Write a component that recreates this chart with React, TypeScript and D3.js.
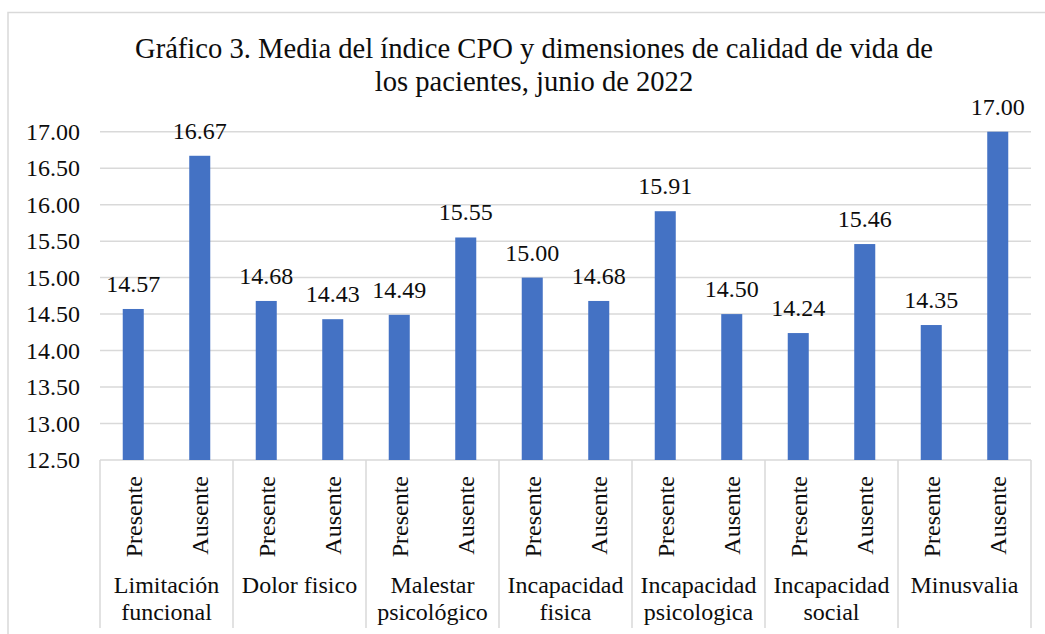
import React from 'react';
import * as d3 from 'd3';

// chart values
const groups = [
    ['Limitación', 'funcional'],
    ['Dolor fisico'],
    ['Malestar', 'psicológico'],
    ['Incapacidad', 'fisica'],
    ['Incapacidad', 'psicologica'],
    ['Incapacidad', 'social'],
    ['Minusvalia'],
];
const levels = ['Presente', 'Ausente'];
const values = [
    14.57, 16.67,
    14.68, 14.43,
    14.49, 15.55,
    15.00, 14.68,
    15.91, 14.50,
    14.24, 15.46,
    14.35, 17.00,
];
const yTicks = [12.5, 13, 13.5, 14, 14.5, 15, 15.5, 16, 16.5, 17];
const titleLines = [
    'Gráfico 3. Media del índice CPO y dimensiones de calidad de vida de',
    'los pacientes, junio de 2022',
];

const W = 1045;
const H = 634;
const FONT = "'Liberation Serif', 'Times New Roman', Times, serif";
const BAR = '#4472C4';
const GRID = '#d9d9d9';
const INK = '#0d0d0d';
const FS = 24;

export default function App() {
    const left = 100;
    const right = 1031;
    const top = 131.7;
    const bottom = 460;

    const y = d3.scaleLinear().domain([12.5, 17]).range([bottom, top]);
    const x = d3.scaleBand<number>()
        .domain(d3.range(values.length))
        .range([left, right])
        .padding(0);
    const gx = d3.scaleBand<number>()
        .domain(d3.range(groups.length))
        .range([left, right])
        .padding(0);
    const barW = x.bandwidth() * 0.316;
    const txt = { fontFamily: FONT };

    return (
        <svg width={W} height={H} style={{ position: 'absolute', left: 0, top: 0, fontFamily: FONT }}>
            <rect x={0} y={0} width={W} height={H} fill="#fff" />
            {/* chart area border */}
            <rect x={8} y={12.5} width={W + 20} height={H + 20} fill="none"
                stroke={GRID} strokeWidth={1.5} />

            {/* title */}
            {titleLines.map((t, i) => (
                <text key={i} x={534} y={58 + i * 33} textAnchor="middle"
                    fontSize={28.6} fill={INK} style={txt}>{t}</text>
            ))}

            {/* gridlines + y tick labels */}
            {yTicks.map(t => (
                <g key={t}>
                    <line x1={left} x2={right} y1={y(t)} y2={y(t)}
                        stroke={GRID} strokeWidth={1.5} />
                    <text x={80} y={y(t)} dy="0.34em" textAnchor="end"
                        fontSize={FS} fill={INK} style={txt}>{d3.format('.2f')(t)}</text>
                </g>
            ))}

            {/* bars */}
            {values.map((v, i) => {
                const cx = x(i)! + x.bandwidth() / 2;
                return (
                    <g key={i}>
                        <rect x={cx - barW / 2} y={y(v)} width={barW}
                            height={bottom - y(v)} fill={BAR} />
                        <text x={cx} y={y(v) - 17} textAnchor="middle"
                            fontSize={FS} fill={INK} style={txt}>{d3.format('.2f')(v)}</text>
                        <text transform={`translate(${cx},476) rotate(-90)`}
                            dy="0.35em" textAnchor="end" fontSize={FS}
                            fill={INK} style={txt}>{levels[i % 2]}</text>
                    </g>
                );
            })}

            {/* category axis: group separators and group labels */}
            {d3.range(groups.length + 1).map(i => {
                const bx = i < groups.length ? gx(i)! : right;
                return (
                    <line key={'s' + i} x1={bx} x2={bx} y1={bottom} y2={628}
                        stroke={GRID} strokeWidth={1.5} />
                );
            })}
            {groups.map((lines, i) => (
                <text key={'g' + i} textAnchor="middle" fontSize={FS} fill={INK} style={txt}>
                    {lines.map((l, j) => (
                        <tspan key={j} x={gx(i)! + gx.bandwidth() / 2}
                            y={593 + j * 27}>{l}</tspan>
                    ))}
                </text>
            ))}
        </svg>
    );
}
